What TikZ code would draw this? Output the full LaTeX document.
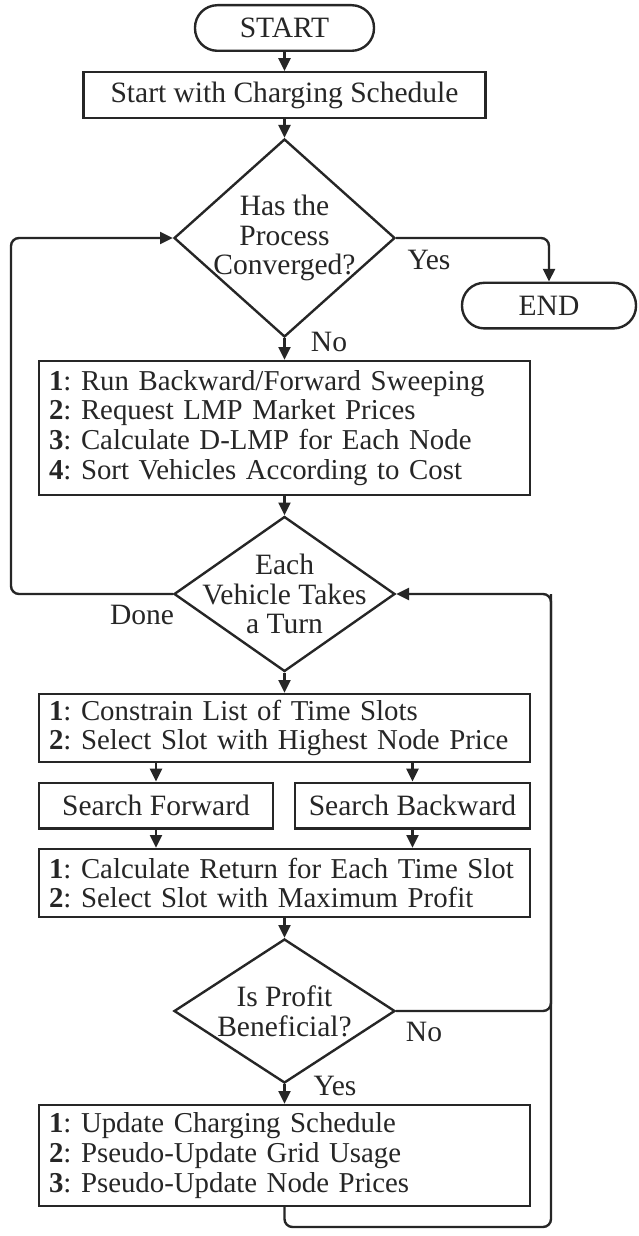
\documentclass[tikz,border=0pt]{standalone}
\usepackage{fontspec}
\setmainfont{Liberation Serif}
\frenchspacing
\usetikzlibrary{shapes.geometric,arrows.meta}
\definecolor{ink}{RGB}{38,38,38}
\begin{document}
\begin{tikzpicture}[>={Triangle[length=0.32cm,width=0.3cm]}, line width=1.7pt, color=ink,
  every node/.style={text=ink, font=\fontsize{21pt}{21.2pt}\selectfont},
  term/.style={draw, rectangle, rounded corners=0.56cm, minimum width=#1, minimum height=1.14cm},
  plainbox/.style={draw, rectangle, minimum width=#1, minimum height=1.14cm},
  stepbox/.style={draw, rectangle, minimum height=#1, inner xsep=0.25cm, text width=11.775cm, align=left, font=\fontsize{20.5pt}{21.2pt}\selectfont},
  choice/.style={draw, diamond, inner sep=0pt, minimum width=5.525cm, minimum height=#1}]
\fill[white] (0,0) rectangle (15.95,-30.9);
\useasboundingbox (0,0) rectangle (15.95,-30.9);

\node[term=4.475cm] (start) at (7.1125,-0.7) {START};
\node[plainbox=10.05cm] (init) at (7.1125,-2.375) {Start with Charging Schedule};
\node[choice=4.95cm, label={[align=center]center:Has the\\Process\\Converged?}] (conv) at (7.1125,-5.95) {};
\node[term=4.35cm] (end) at (13.725,-7.64) {END};
\node[stepbox=3.35cm] (prep) at (7.1125,-10.7) {\textbf{1}: Run Backward/Forward Sweeping\\\textbf{2}: Request LMP Market Prices\\\textbf{3}: Calculate D-LMP for Each Node\\\textbf{4}: Sort Vehicles According to Cost};
\node[choice=3.875cm, label={[align=center]center:Each\\Vehicle Takes\\a Turn}] (turn) at (7.1125,-14.85) {};
\node[stepbox=1.7cm] (slots) at (7.1125,-18.2) {\textbf{1}: Constrain List of Time Slots\\\textbf{2}: Select Slot with Highest Node Price};
\node[plainbox=5.85cm] (fwd) at (3.9,-20.1375) {Search Forward};
\node[plainbox=5.875cm] (bwd) at (10.3125,-20.1375) {Search Backward};
\node[stepbox=1.7cm] (ret) at (7.1125,-22.075) {\textbf{1}: Calculate Return for Each Time Slot\\\textbf{2}: Select Slot with Maximum Profit};
\node[choice=3.6cm, label={[align=center]center:Is Profit\\Beneficial?}] (profit) at (7.1125,-25.275) {};
\node[stepbox=2.525cm] (upd) at (7.1125,-28.8875) {\textbf{1}: Update Charging Schedule\\\textbf{2}: Pseudo-Update Grid Usage\\\textbf{3}: Pseudo-Update Node Prices};

\coordinate (loopL) at (0.275,-14.85);
\coordinate (loopR) at (13.775,-14.85);
\coordinate (loopB) at (13.775,-30.675);

\draw[->] (start) -- (init);
\draw[->] (init) -- (conv);
\draw[->, rounded corners=0.2cm] (conv.east) -| (end.north);
\draw[->] (conv) -- (prep);
\draw[->] (prep) -- (turn);
\draw[->, rounded corners=0.2cm] (turn.west) -- (loopL) |- (conv.west);
\draw[->] (turn) -- (slots);
\draw[->] (fwd |- slots.south) -- (fwd);
\draw[->] (bwd |- slots.south) -- (bwd);
\draw[->] (fwd) -- (fwd |- ret.north);
\draw[->] (bwd) -- (bwd |- ret.north);
\draw[->] (ret) -- (profit);
\draw[->] (profit) -- (upd);
\draw[->, rounded corners=0.2cm] (upd.south) |- (loopB) -- (loopR) -- (turn.east);
\draw[rounded corners=0.2cm] (profit.east) -| (loopR);

\node at (10.725,-6.5) {Yes};
\node at (8.225,-8.55) {No};
\node at (3.55,-15.375) {Done};
\node at (10.6,-25.8) {No};
\node at (8.375,-27.15) {Yes};
\end{tikzpicture}
\end{document}
